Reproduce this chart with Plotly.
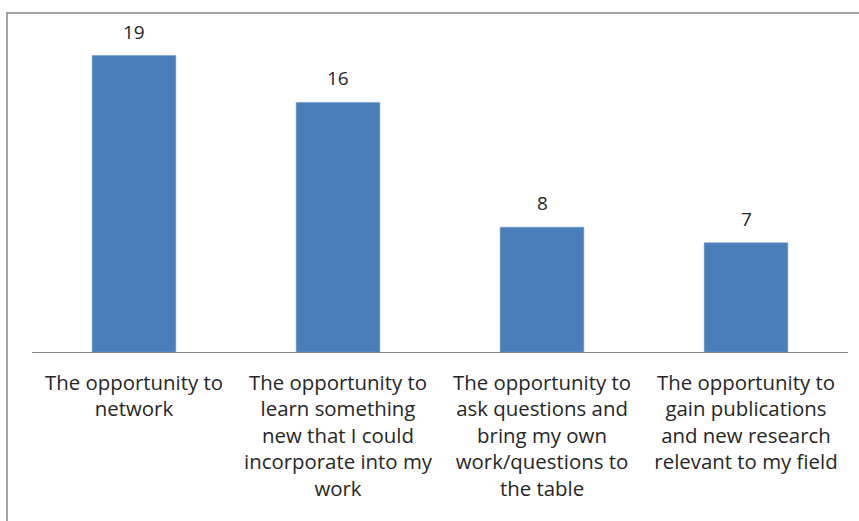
import plotly.graph_objects as go

# Survey responses: what attendees valued most
categories = [
    "The opportunity to<br>network",
    "The opportunity to<br>learn something<br>new that I could<br>incorporate into my<br>work",
    "The opportunity to<br>ask questions and<br>bring my own<br>work/questions to<br>the table",
    "The opportunity to<br>gain publications<br>and new research<br>relevant to my field",
]
counts = [19, 16, 8, 7]

W, H = 859, 521
left, right, top, bottom = 32, 11, 40, 169

FONT = "Open Sans, Calibri, sans-serif"
TEXT = "#262626"
BAR = "#4A7EBB"

fig = go.Figure(
    go.Bar(
        x=categories,
        y=counts,
        marker=dict(color=BAR, line=dict(color="#6E98CC", width=0.6)),
        width=0.41,
        hoverinfo="skip",
    )
)

# value labels above each bar
for cat, v in zip(categories, counts):
    fig.add_annotation(
        x=cat, y=v, text=str(v), showarrow=False,
        yanchor="bottom", yshift=9,
        font=dict(family=FONT, size=19, color=TEXT),
    )

# outer chart frame
pw, ph = W - left - right, H - top - bottom
fig.add_shape(
    type="rect", xref="paper", yref="paper",
    x0=(7 - left) / pw, x1=(W + 10 - left) / pw,
    y0=-(H + 10 - top - ph) / ph, y1=1 + (top - 13) / ph,
    line=dict(color="#878787", width=1.5), layer="below",
)

fig.update_layout(
    width=W, height=H,
    margin=dict(l=left, r=right, t=top, b=bottom),
    paper_bgcolor="white", plot_bgcolor="white",
    showlegend=False,
    font=dict(family=FONT, size=20, color=TEXT),
    xaxis=dict(
        showline=True, linecolor="#878787", linewidth=1.2,
        ticks="", tickfont=dict(family=FONT, size=20.4, color=TEXT),
        ticklabelstandoff=12, showgrid=False, fixedrange=True,
    ),
    yaxis=dict(
        range=[0, 20], visible=False, showgrid=False, fixedrange=True,
    ),
    bargap=0.59,
)

fig.write_html("out.html")
